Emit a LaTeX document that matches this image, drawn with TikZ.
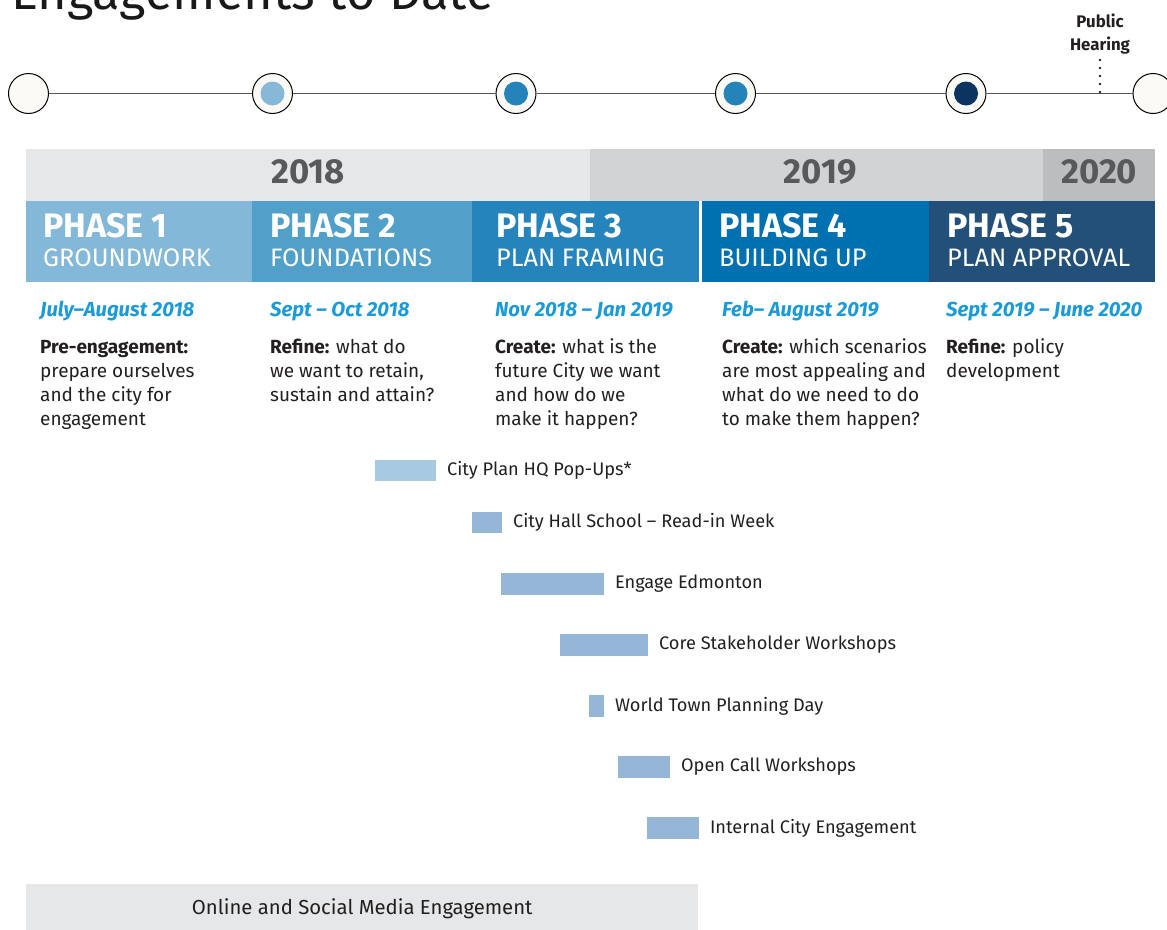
\documentclass[tikz,border=0pt]{standalone}
\usepackage{fontspec}
\setmainfont{Fira Sans}
\usetikzlibrary{positioning}

\definecolor{cream}{HTML}{FBFAF6}
\definecolor{rail}{HTML}{555555}
\definecolor{dotA}{HTML}{86B8D7}
\definecolor{dotB}{HTML}{2484BA}
\definecolor{dotC}{HTML}{0B3460}
\definecolor{yrA}{HTML}{E6E7E8}
\definecolor{yrB}{HTML}{D1D3D4}
\definecolor{yrC}{HTML}{BCBDBF}
\definecolor{yeartxt}{HTML}{58595B}
\definecolor{phA}{HTML}{84B8D8}
\definecolor{phB}{HTML}{50A0C9}
\definecolor{phC}{HTML}{2484BB}
\definecolor{phD}{HTML}{0071B0}
\definecolor{phE}{HTML}{225078}
\definecolor{datecol}{HTML}{1A9BD7}
\definecolor{ink}{HTML}{231F20}
\definecolor{barA}{HTML}{A8CAE1}
\definecolor{barB}{HTML}{95B6D7}

\begin{document}
\begin{tikzpicture}[x=1pt,y=-1pt,
    stop/.style={circle,draw=black,line width=1pt,fill=cream,minimum size=40pt,inner sep=0pt},
    stopdot/.style={circle,minimum size=24pt,inner sep=0pt},
    railline/.style={draw=rail,line width=1.3pt},
    hearing/.style={draw=ink,line width=2.7pt,line cap=round,dash pattern=on 0pt off 8pt},
    yearbox/.style={anchor=north west,minimum height=51.5pt,inner sep=0pt,text height=24pt,text depth=6pt,
        font=\fontsize{34.7}{35}\selectfont\bfseries,text=yeartxt},
    phasebox/.style={anchor=north west,minimum height=81pt,inner sep=0pt},
    phnum/.style={anchor=base west,inner sep=0pt,text=white,font=\fontsize{34}{34}\selectfont\bfseries},
    phname/.style={anchor=base west,inner sep=0pt,text=white,font=\fontsize{25.3}{26}\selectfont},
    when/.style={anchor=base west,inner sep=0pt,text=datecol,font=\fontsize{20.3}{22}\selectfont\bfseries\itshape},
    what/.style={anchor=base west,inner sep=0pt,text=ink,font=\fontsize{19}{24.3}\selectfont},
    bar/.style={anchor=west,inner sep=0pt,minimum height=21.5pt},
    barlab/.style={inner sep=0pt,text=ink,font=\fontsize{18.2}{20}\selectfont},
]
\useasboundingbox (0,0) rectangle (1167,929);
\clip (0,0) rectangle (1167,929);

% Title, cut by the top edge
\node[anchor=base west,inner sep=0pt,text=black!90,font=\fontsize{50.6}{51}\selectfont] (title) at (11,9) {Engagements to Date};

% Timeline stops
\foreach \i/\xx in {1/28.5,2/272.5,3/516,4/735.5,5/966,6/1153}
    \node[stop] (m\i) at (\xx,93.5) {};
\foreach \a/\b in {1/2,2/3,3/4,4/5,5/6}
    \draw[railline] (m\a) -- (m\b);
\foreach \i/\col in {2/dotA,3/dotB,4/dotB,5/dotC}
    \node[stopdot,fill=\col] (d\i) at (m\i) {};

% Public hearing marker
\node[anchor=base,inner sep=0pt,text=ink,font=\fontsize{16.8}{23.7}\selectfont\bfseries] (ph) at (1100,27)
    {\begin{tabular}[t]{@{}c@{}}Public\\Hearing\end{tabular}};
\coordinate (phtop) at (1100,60);
\coordinate (phrail) at (1100,93);
\draw[hearing] (phtop) -- (phrail);

% Years
\node[yearbox,fill=yrA,minimum width=564pt] (y18) at (26,149) {2018};
\node[yearbox,fill=yrB,minimum width=453pt] (y19) at (590,149) {\hspace{7pt}2019};
\node[yearbox,fill=yrC,minimum width=112pt] (y20) at (1043,149) {2020};

% Phases, dates and aims
\foreach \i/\xl/\w/\col/\lx/\dx/\nm/\dt/\txt in {
    1/26/226/phA/43/40/GROUNDWORK/{July–August 2018}/{\textbf{Pre-engagement:}\\prepare ourselves\\and the city for\\engagement},
    2/252/220/phB/270/270/FOUNDATIONS/{Sept – Oct 2018}/{\textbf{Refine:} what do\\we want to retain,\\sustain and attain?},
    3/472/227/phC/496/495/PLAN FRAMING/{Nov 2018 – Jan 2019}/{\textbf{Create:} what is the\\future City we want\\and how do we\\make it happen?},
    4/702/227/phD/719/722/BUILDING UP/{Feb– August 2019}/{\textbf{Create:} which scenarios\\are most appealing and\\what do we need to do\\to make them happen?},
    5/929/226/phE/947/946/PLAN APPROVAL/{Sept 2019 – June 2020}/{\textbf{Refine:} policy\\development}} {
    \node[phasebox,fill=\col,minimum width=\w pt] (p\i) at (\xl,200.5) {};
    \node[phnum] (pn\i) at (\lx,237) {PHASE \i};
    \node[phname] (ps\i) at (\lx,266) {\nm};
    \node[when] (dt\i) at (\dx,316.7) {\dt};
    \node[what] (aim\i) at (\dx,353) {\begin{tabular}[t]{@{}l@{}}\txt\end{tabular}};
}

% Engagement bars
\foreach \i/\xa/\xb/\yc/\col/\lab in {
    1/375/436/470.5/barA/{City Plan HQ Pop-Ups*},
    2/472/502/522.5/barB/{City Hall School – Read-in Week},
    3/501/604/583.8/barB/{Engage Edmonton},
    4/560/648/644.8/barB/{Core Stakeholder Workshops},
    5/589/604/706/barB/{World Town Planning Day},
    6/618/670/767/barB/{Open Call Workshops},
    7/647/699/828/barB/{Internal City Engagement}} {
    \node[bar,fill=\col,minimum width={(\xb-\xa)*1pt}] (b\i) at (\xa,\yc) {};
    \node[barlab,right=10.5pt of b\i] (bl\i) {\lab};
}

% Online band
\node[anchor=north west,fill=yrA,minimum width=672pt,minimum height=50pt,inner sep=0pt,
      text=ink,font=\fontsize{20.3}{21}\selectfont] (osm) at (26,884) {Online and Social Media Engagement};

\end{tikzpicture}
\end{document}
